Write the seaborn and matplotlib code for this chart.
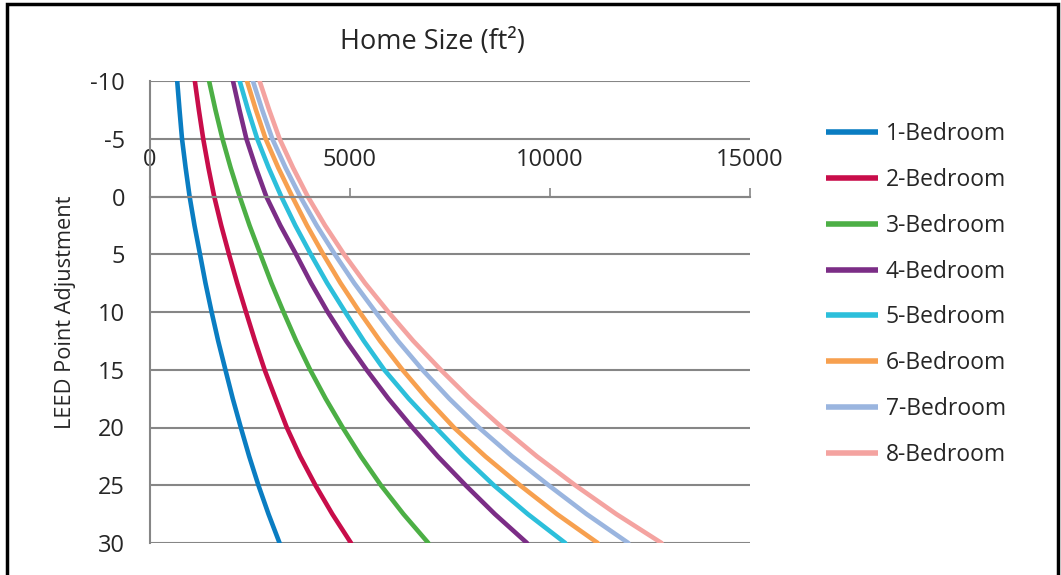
import pandas as pd
import seaborn as sns
import matplotlib.pyplot as plt
from matplotlib.patches import Rectangle

# LEED point adjustment (y) vs home size in ft2 (x)
points = [-10, -7.5, -5, -2.5, 0, 2.5, 5, 7.5, 10, 12.5, 15, 17.5, 20, 22.5, 25, 27.5, 30]
bed1 = [680, 738, 800, 890, 990, 1112, 1250, 1387, 1540, 1704, 1885, 2069,
        2270, 2480, 2710, 2963, 3239]
bed2 = [1121, 1221, 1330, 1460, 1605, 1780, 1975, 2180, 2400, 2625, 2865, 3140,
        3420, 3753, 4136, 4559, 5025]
bed3 = [1477, 1636, 1811, 2015, 2242, 2488, 2760, 3035, 3338, 3655, 4003, 4391,
        4816, 5272, 5772, 6337, 6958]
bed4 = [2075, 2236, 2409, 2646, 2907, 3257, 3650, 4027, 4442, 4904, 5413, 5959,
        6560, 7194, 7890, 8623, 9425]
bed5 = [2242, 2451, 2680, 2965, 3281, 3632, 4020, 4429, 4880, 5345, 5855, 6467,
        7142, 7835, 8595, 9446, 10381]
bed6 = [2424, 2647, 2890, 3205, 3555, 3923, 4330, 4763, 5240, 5750, 6310, 6924,
        7598, 8383, 9250, 10175, 11193]
bed7 = [2573, 2805, 3057, 3388, 3754, 4165, 4620, 5105, 5640, 6197, 6809, 7482,
        8221, 9051, 9965, 10916, 11958]
bed8 = [2740, 2979, 3239, 3574, 3944, 4374, 4850, 5376, 5960, 6581, 7267, 7998,
        8802, 9673, 10630, 11659, 12788]
labels = ["1-Bedroom", "2-Bedroom", "3-Bedroom", "4-Bedroom",
          "5-Bedroom", "6-Bedroom", "7-Bedroom", "8-Bedroom"]
colors = ["#0A7DC2", "#C80D4A", "#4CAF45", "#7B2D86",
          "#2CBFDB", "#F7A04F", "#9AB5DF", "#F4A3A0"]

series = [bed1, bed2, bed3, bed4, bed5, bed6, bed7, bed8]
frames = []
for lab, vals in zip(labels, series):
    frames.append(pd.DataFrame({"size": vals, "points": points, "type": lab}))
df = pd.concat(frames, ignore_index=True)

sns.set_style("white")
plt.rcParams['font.family'] = ['Open Sans', 'DejaVu Sans']

fig = plt.figure(figsize=(10.61, 5.75), dpi=100)
ax = fig.add_axes([150/1061, 1-543/575, 600/1061, (543-81)/575])

sns.lineplot(data=df, x="size", y="points", hue="type", palette=colors,
             sort=False, linewidth=3.3, ax=ax, legend=True)

ax.set_xlim(0, 15000)
ax.set_ylim(30, -10)
ax.set_xticks([0, 5000, 10000, 15000])
ax.set_yticks(range(-10, 31, 5))
ax.set_yticklabels([str(v) for v in range(-10, 31, 5)])
ax.set_xticklabels(["0", "5000", "10000", "15000"])

grey = "#868686"
ax.grid(axis="y", color=grey, linewidth=1.5)
ax.grid(axis="x", visible=False)
ax.set_axisbelow(True)

ax.spines['right'].set_visible(False)
ax.spines['bottom'].set_visible(False)
ax.spines['top'].set_position(('data', 0))
ax.spines['top'].set_color(grey)
ax.spines['top'].set_linewidth(1.5)
ax.spines['left'].set_color(grey)
ax.spines['left'].set_linewidth(1.5)

ax.xaxis.set_ticks_position('top')
ax.tick_params(axis='x', direction='out', length=6.5, width=1.2, color=grey,
               pad=11, labelsize=17)
ax.tick_params(axis='y', direction='out', length=5, width=1.2, color=grey,
               pad=13, labelsize=17)

ax.set_xlabel("")
ax.set_ylabel("LEED Point Adjustment", fontsize=15.7)
ax.yaxis.set_label_coords((76-150)/600, 0.5)

fig.text(432/1061, 1-42/575, "Home Size (ft²)", ha="center", va="center",
         fontsize=19.5)

leg = ax.legend(loc="center left", bbox_to_anchor=(805/1061, 1-294.5/575),
                bbox_transform=fig.transFigure, frameon=False, fontsize=16.5,
                handlelength=2.27, handletextpad=0.35, labelspacing=0.95)
for line in leg.get_lines():
    line.set_linewidth(4)
    line.set_solid_capstyle("butt")

fig.patches.append(Rectangle((7/1061, -0.05), 1051/1061, 1.05 - 4/575,
                             transform=fig.transFigure, fill=False,
                             edgecolor="black", linewidth=2.5))

fig.savefig("out.png", dpi=100)
